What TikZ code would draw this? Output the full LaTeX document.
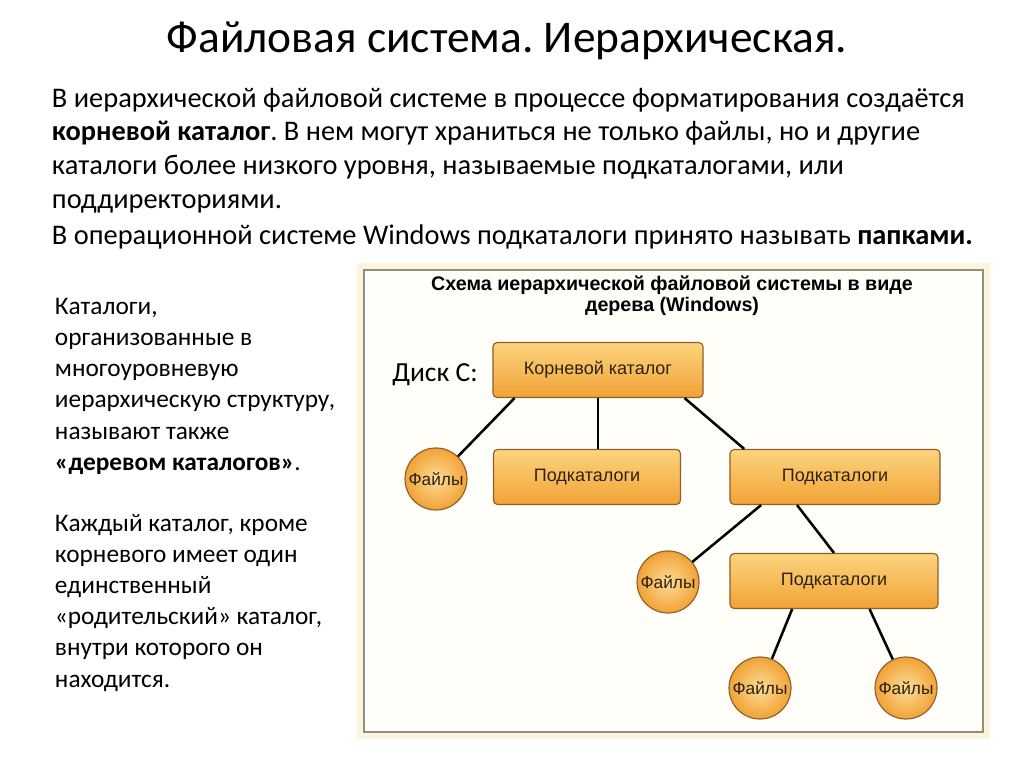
\documentclass[tikz,border=0pt]{standalone}
\usepackage{fontspec}
\setmainfont{Carlito}
\newfontfamily\diafont{Liberation Sans}
\usetikzlibrary{positioning,calc}
\definecolor{boxtop}{HTML}{FCD47E}
\definecolor{boxbot}{HTML}{F1A236}
\definecolor{boxline}{HTML}{8E5E2C}
\definecolor{boxtext}{HTML}{2E220E}
\definecolor{framegray}{HTML}{8E8E84}
\definecolor{frameglow}{HTML}{FCF5DC}
\definecolor{framefill}{HTML}{FFFEF9}

\begin{document}
\frenchspacing
\begin{tikzpicture}[x=0.025cm, y=-0.025cm,
  catbox/.style={rectangle, draw=boxline, line width=0.8pt, top color=boxtop, bottom color=boxbot, rounded corners=3pt, minimum height=1.375cm, text=boxtext, font=\diafont\fontsize{12.8}{15}\selectfont},
  filecirc/.style={circle, draw=boxline, line width=0.8pt, inner color=boxtop!80!white, outer color=boxbot, minimum size=1.55cm, inner sep=0pt, text=boxtext, font=\diafont\fontsize{12.3}{14}\selectfont},
  link/.style={line width=1.8pt, black}
]
  \useasboundingbox (0,0) rectangle (1024,767);
  \fill[white] (0,0) rectangle (1024,767);

  % heading and text
  \node[font=\fontsize{32.3}{38}\selectfont] (title) at (507,41) {Файловая система. Иерархическая.};
  \node[anchor=north west, align=left, font=\fontsize{20.2}{24}\selectfont] (intro) at (47,83)
    {В иерархической файловой системе в процессе форматирования создаётся\\
     \textbf{корневой каталог}. В нем могут храниться не только файлы, но и другие\\
     каталоги более низкого уровня, называемые подкаталогами, или\\
     поддиректориями.\\[2pt]
     В операционной системе Windows подкаталоги принято называть \textbf{папками.}};
  \node[anchor=north west, align=left, font=\fontsize{18}{22.2}\selectfont] (side) at (50,293)
    {Каталоги,\\
     организованные в\\
     многоуровневую\\
     иерархическую структуру,\\
     называют также\\
     \textbf{«деревом каталогов»}.\\[21pt]
     Каждый каталог, кроме\\
     корневого имеет один\\
     единственный\\
     «родительский» каталог,\\
     внутри которого он\\
     находится.};

  % frame of the scheme
  \draw[frameglow, line width=4pt] (360,266) rectangle (987,736);
  \draw[framegray, line width=0.9pt, fill=framefill] (364,270) rectangle (983,732);
  \node[font=\diafont\bfseries\fontsize{14}{15}\selectfont, align=center] (dtitle) at (672,296)
    {Схема иерархической файловой системы в виде\\дерева (Windows)};
  \node[font=\fontsize{19.6}{22}\selectfont] (disk) at (435,375) {Диск C:};

  % tree
  \node[catbox, minimum width=5.25cm] (root) at (598,370) {Корневой каталог};
  \node[catbox, minimum width=4.675cm] (sub1) at (587,477) {Подкаталоги};
  \node[catbox, minimum width=5.25cm] (sub2) at (835,477) {Подкаталоги};
  \node[catbox, minimum width=5.2cm] (sub3) at (834,581) {Подкаталоги};
  \node[filecirc] (f1) at (436,479) {Файлы};
  \node[filecirc] (f2) at (668,582) {Файлы};
  \node[filecirc] (f3) at (760,688) {Файлы};
  \node[filecirc] (f4) at (906,688) {Файлы};

  \draw[link] ($(root.south west)!.105!(root.south east)$) -- (f1);
  \draw[link] (root.south) -- (root.south |- sub1.north);
  \draw[link] ($(root.south west)!.91!(root.south east)$) -- ($(sub2.north west)!.07!(sub2.north east)$);
  \draw[link] ($(sub2.south west)!.15!(sub2.south east)$) -- (f2);
  \draw[link] ($(sub2.south west)!.32!(sub2.south east)$) -- (sub3.north);
  \draw[link] ($(sub3.south west)!.3!(sub3.south east)$) -- (f3);
  \draw[link] ($(sub3.south west)!.67!(sub3.south east)$) -- (f4);
\end{tikzpicture}
\end{document}
